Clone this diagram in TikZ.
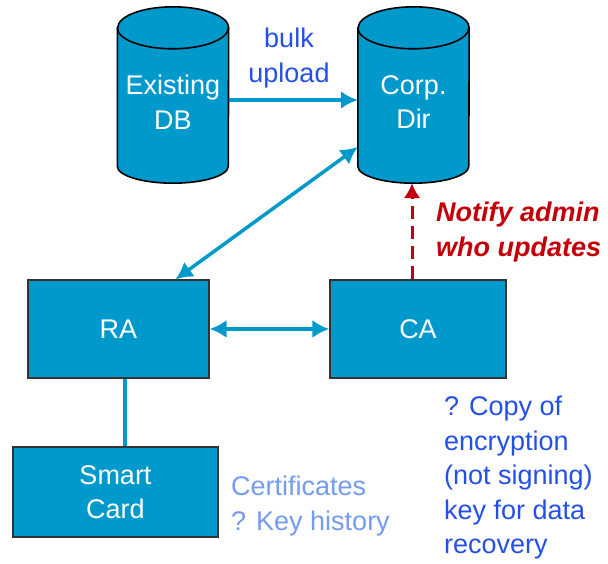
\documentclass[tikz,border=0pt]{standalone}
\usepackage{fontspec}
\setmainfont{Liberation Sans}
\usetikzlibrary{arrows.meta}

\definecolor{unitblue}{RGB}{0,153,204}
\definecolor{noteblue}{RGB}{35,80,230}
\definecolor{paleblue}{RGB}{115,155,240}
\definecolor{notered}{RGB}{195,0,10}

\tikzset{
  bigtext/.style={font=\fontsize{27}{34.5}\selectfont},
  drumbody/.style={rectangle, inner sep=0pt, minimum width=111pt, minimum height=176pt},
  drumline/.style={draw=black, line width=1.6pt, fill=unitblue},
  drumtext/.style={text=white, align=center, bigtext, inner sep=0pt},
  unitbox/.style={rectangle, draw=black!80, line width=1.2pt, fill=unitblue, text=white,
    align=center, bigtext, inner sep=0pt},
  link/.style={line width=3.5pt, draw=unitblue},
  tip/.tip={Latex[length=17pt,width=18pt]},
  redtip/.tip={Latex[length=15pt,width=17pt]},
  note/.style={align=left, bigtext, inner sep=0pt}
}

\begin{document}
\begin{tikzpicture}[x=1pt, y=-1pt]
  \useasboundingbox (0,0) rectangle (608,564);

  % Existing DB
  \node[drumbody] (db) at (173,95) {};
  \draw[drumline] ([yshift=-21pt]db.north west) -- ([yshift=17pt]db.south west)
    arc[start angle=180, end angle=360, x radius=55.5pt, y radius=17pt]
    -- ([yshift=-21pt]db.north east)
    arc[start angle=0, end angle=180, x radius=55.5pt, y radius=21pt] -- cycle;
  \draw[drumline, fill=none] ([yshift=-21pt]db.north west)
    arc[start angle=180, end angle=360, x radius=55.5pt, y radius=21pt];
  \node[drumtext] (dbtext) at (173,102) {Existing\\DB};

  % Corp. Dir
  \node[drumbody] (dir) at (413.5,95) {};
  \draw[drumline] ([yshift=-21pt]dir.north west) -- ([yshift=17pt]dir.south west)
    arc[start angle=180, end angle=360, x radius=55.5pt, y radius=17pt]
    -- ([yshift=-21pt]dir.north east)
    arc[start angle=0, end angle=180, x radius=55.5pt, y radius=21pt] -- cycle;
  \draw[drumline, fill=none] ([yshift=-21pt]dir.north west)
    arc[start angle=180, end angle=360, x radius=55.5pt, y radius=21pt];
  \node[drumtext] (dirtext) at (413.5,102) {Corp.\\Dir};

  % Authorities and card
  \node[unitbox, minimum width=181pt, minimum height=98pt] (ra) at (118.5,329) {RA};
  \node[unitbox, minimum width=176pt, minimum height=98pt] (ca) at (418,329) {CA};
  \node[unitbox, minimum width=205pt, minimum height=90pt] (card) at (115.5,492) {Smart\\Card};

  % Connectors
  \draw[link, -tip] ([yshift=-5pt]db.east) -- (dir.west |- 0,100);
  \draw[link, tip-tip] ([xshift=57pt]ra.north) -- ([yshift=-52pt]dir.west);
  \draw[link, tip-tip] (ra.east) -- (ca.west);
  \draw[link] ([xshift=6.5pt]ra.south) -- ([xshift=6.5pt]ra.south |- card.north);
  \draw[line width=3pt, notered, dash pattern=on 13pt off 7pt, -redtip]
    ([xshift=-6pt]ca.north) -- ([xshift=-6pt]ca.north |- dir.south);

  % Labels
  \node[note, align=center, text=noteblue] (bulk) at (289,58) {bulk\\upload};
  \node[note, anchor=west, text=notered, font=\fontsize{27}{34.5}\selectfont\bfseries\itshape]
    (notify) at (436,232) {Notify admin\\who updates};
  \node[note, anchor=west, text=paleblue] (certs) at (231,506) {Certificates\\? Key history};
  \node[note, anchor=west, text=noteblue] (escrow) at (444,478)
    {? Copy of\\encryption\\(not signing)\\key for data\\recovery};
\end{tikzpicture}
\end{document}
